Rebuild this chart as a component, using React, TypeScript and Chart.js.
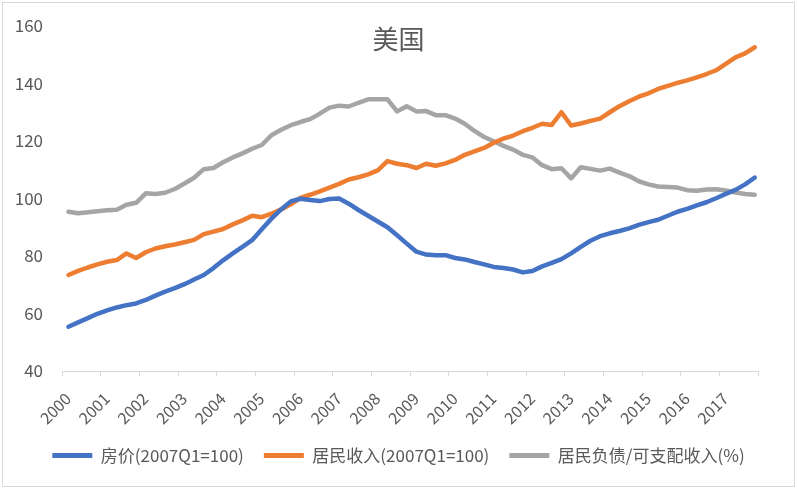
import React, { useEffect, useRef } from 'react';
import { Chart, registerables } from 'chart.js';

Chart.register(...registerables);

const chartTitle = '美国';
const seriesNames = ['房价(2007Q1=100)', '居民收入(2007Q1=100)', '居民负债/可支配收入(%)'];
const seriesColors = ['#4472C4', '#ED7D31', '#A5A5A5'];
const years = [2000, 2001, 2002, 2003, 2004, 2005, 2006, 2007, 2008, 2009, 2010, 2011, 2012, 2013, 2014, 2015, 2016, 2017];
const quarterMonths = [3, 6, 9, 12];
const yTicks = [40, 60, 80, 100, 120, 140, 160];

// quarterly values, 2000Q1 .. 2017Q4
const housePrice = [
  55.4, 56.9, 58.4, 59.9, 61.1, 62.1, 62.9, 63.5,
  64.7, 66.2, 67.6, 68.8, 70.2, 71.8, 73.4, 75.8,
  78.5, 80.9, 83.2, 85.5, 89.3, 93.0, 96.2, 99.0,
  99.9, 99.5, 99.1, 99.8, 100.0, 98.2, 96.0, 94.0,
  92.0, 90.0, 87.2, 84.3, 81.5, 80.5, 80.3, 80.3,
  79.3, 78.8, 77.9, 77.1, 76.2, 75.8, 75.3, 74.3,
  74.8, 76.4, 77.6, 78.9, 80.9, 83.2, 85.3, 86.9,
  87.9, 88.7, 89.6, 90.8, 91.8, 92.6, 94.0, 95.4,
  96.4, 97.6, 98.7, 100.1, 101.6, 103.0, 104.9, 107.3,
];
const income = [
  73.4, 74.8, 76.0, 77.1, 78.0, 78.6, 80.9, 79.3,
  81.3, 82.6, 83.4, 84.0, 84.8, 85.6, 87.6, 88.5,
  89.4, 91.0, 92.4, 94.0, 93.5, 94.7, 96.2, 98.0,
  100.2, 101.3, 102.5, 103.8, 105.1, 106.6, 107.4, 108.4,
  109.8, 113.0, 112.1, 111.6, 110.6, 112.1, 111.4, 112.2,
  113.4, 115.2, 116.4, 117.6, 119.4, 120.8, 121.9, 123.4,
  124.6, 126.0, 125.6, 130.0, 125.4, 126.1, 127.0, 127.8,
  130.0, 132.1, 133.8, 135.4, 136.6, 138.1, 139.2, 140.2,
  141.1, 142.1, 143.3, 144.6, 146.8, 149.1, 150.5, 152.6,
];
const debtRatio = [
  95.4, 94.9, 95.2, 95.6, 95.9, 96.1, 97.8, 98.5,
  101.8, 101.6, 102.0, 103.3, 105.2, 107.2, 110.2, 110.6,
  112.6, 114.3, 115.7, 117.3, 118.6, 122.0, 123.9, 125.5,
  126.6, 127.6, 129.5, 131.6, 132.3, 132.0, 133.3, 134.5,
  134.5, 134.5, 130.3, 132.1, 130.3, 130.4, 129.0, 129.0,
  127.8, 126.0, 123.5, 121.4, 119.9, 118.3, 117.0, 115.2,
  114.3, 111.6, 110.2, 110.5, 107.0, 110.9, 110.3, 109.7,
  110.4, 109.0, 107.8, 106.0, 104.9, 104.2, 104.0, 103.8,
  102.9, 102.7, 103.1, 103.2, 102.8, 102.1, 101.6, 101.3,
];

// quarter dates as fractional years (first day of the quarter's last month)
const quarterDates: number[] = [];
years.forEach((y) => quarterMonths.forEach((m) => quarterDates.push(y + (m - 1) / 12)));

const FONT = '"Noto Sans CJK SC", "Noto Sans", sans-serif';
const TEXT = '#595959';

const toPoints = (vals: number[]) => vals.map((v, i) => ({ x: quarterDates[i], y: v }));

const layoutPlugin = {
  id: 'overlayTitle',
  afterLayout(chart: any) {
    // centre the legend row on the canvas, as in the original
    const lg = chart.legend;
    if (lg) {
      const shift = chart.width / 2 - (lg.left + lg.right) / 2;
      lg.left += shift;
      lg.right += shift;
    }
    // let the rotated year labels overflow their box without clipping
    const xs = chart.scales.x;
    if (xs) xs.bottom = chart.height;
  },
  afterDraw(chart: any) {
    const ctx = chart.ctx;
    ctx.save();
    ctx.font = `26px ${FONT}`;
    ctx.fillStyle = TEXT;
    ctx.textAlign = 'center';
    ctx.textBaseline = 'middle';
    ctx.fillText(chartTitle, chart.width / 2, 39);
    ctx.restore();
  },
};

export default function App() {
  const ref = useRef<HTMLCanvasElement | null>(null);
  useEffect(() => {
    if (!ref.current) return;
    const all = [housePrice, income, debtRatio];
    const chart = new Chart(ref.current, {
      type: 'line',
      data: {
        datasets: all.map((vals, k) => ({
          label: seriesNames[k],
          data: toPoints(vals),
          borderColor: seriesColors[k],
          backgroundColor: seriesColors[k],
          borderWidth: 4.5,
          pointRadius: 0,
          tension: 0,
          borderJoinStyle: 'round' as const,
          borderCapStyle: 'round' as const,
        })),
      },
      options: {
        animation: false,
        responsive: false,
        maintainAspectRatio: false,
        layout: { padding: { left: 15, right: 39, top: 26, bottom: 15 } },
        plugins: {
          tooltip: { enabled: false },
          title: { display: false },
          legend: {
            position: 'bottom',
            labels: {
              boxWidth: 40,
              boxHeight: 5,
              padding: 20,
              color: TEXT,
              font: { family: FONT, size: 17 },
              generateLabels: (c: any) =>
                c.data.datasets.map((d: any, i: number) => ({
                  text: d.label,
                  fillStyle: d.borderColor,
                  strokeStyle: d.borderColor,
                  lineWidth: 0,
                  hidden: false,
                  datasetIndex: i,
                  fontColor: TEXT,
                })),
            },
          },
        },
        scales: {
          x: {
            type: 'linear',
            min: years[0],
            max: years[years.length - 1] + 1,
            afterFit: (axis: any) => {
              axis.paddingLeft = 0;
              axis.paddingRight = 0;
              axis.height = 56;
            },
            grid: { drawOnChartArea: false, color: '#D9D9D9', tickLength: 5, lineWidth: 1 },
            border: { display: true, color: '#D9D9D9', width: 1 },
            ticks: {
              stepSize: 1,
              autoSkip: false,
              minRotation: 45,
              maxRotation: 45,
              padding: 13,
              labelOffset: 6,
              color: TEXT,
              font: { family: FONT, size: 16 },
              callback: (v: any) => (years.includes(Number(v)) ? String(v) : ''),
            },
          },
          y: {
            min: yTicks[0],
            max: yTicks[yTicks.length - 1],
            afterBuildTicks: (axis: any) => {
              axis.ticks = yTicks.map((v) => ({ value: v }));
            },
            afterFit: (axis: any) => {
              axis.width = 47;
              axis.paddingTop = 0;
              axis.paddingBottom = 0;
            },
            grid: { display: false, drawTicks: false },
            border: { display: false },
            ticks: {
              padding: 19,
              color: TEXT,
              font: { family: FONT, size: 17 },
            },
          },
        },
      },
      plugins: [layoutPlugin],
    } as any);
    return () => chart.destroy();
  }, []);

  return (
    <div style={{ position: 'fixed', left: 0, top: 0, width: 797, height: 489, background: '#fff' }}>
      <canvas ref={ref} width={797} height={489} style={{ display: 'block', width: 797, height: 489 }} />
      <div
        style={{
          position: 'absolute',
          left: 2,
          top: 2,
          width: 791,
          height: 483,
          border: '1px solid #D9D9D9',
          pointerEvents: 'none',
        }}
      />
    </div>
  );
}
